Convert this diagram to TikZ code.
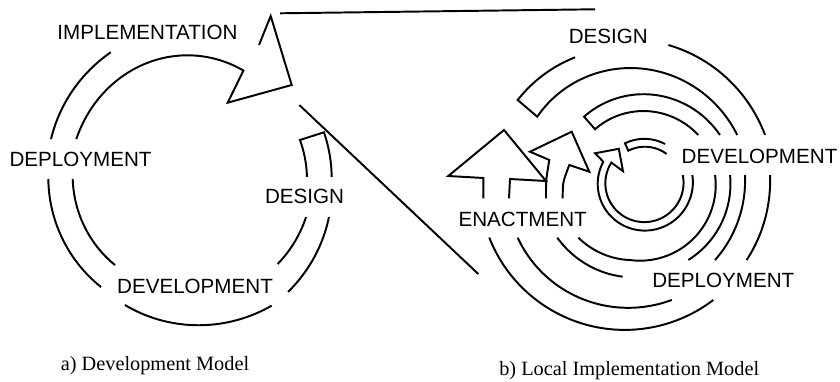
\documentclass[tikz,border=0pt]{standalone}
\usepackage{fontspec}
\setmainfont{Liberation Serif}
\newfontfamily\lsans{Liberation Sans}
\newcommand\rad[4]{((#2)+(\x-(#1))*((#4)-(#2))/((#3)-(#1)))}
\begin{document}
\begin{tikzpicture}[x=1pt,y=-1pt,
  ln/.style={line width=1.95pt},
  lab/.style={font=\lsans\fontsize{20.6}{24}\selectfont, inner sep=0pt, anchor=base},
  captxt/.style={font=\fontsize{20.3}{24}\selectfont, inner sep=0pt, anchor=base}]
\useasboundingbox (0,0) rectangle (840,382);
% ---------------- left figure (centre 190,180)
\draw[ln] plot[domain=196.4:238.2,samples=30,smooth] ({190+\rad{196.4}{144.9}{238.2}{150.3}*cos(\x)},{180+\rad{196.4}{144.9}{238.2}{150.3}*sin(\x)});
\draw[ln] plot[domain=129.7:180.4,samples=30,smooth] ({190+\rad{129.7}{139.2}{180.4}{141.7}*cos(\x)},{180+\rad{129.7}{139.2}{180.4}{141.7}*sin(\x)});
\draw[ln] plot[domain=57:117.5,samples=30,smooth] ({190+\rad{57}{149.9}{117.5}{140.9}*cos(\x)},{180+\rad{57}{149.9}{117.5}{140.9}*sin(\x)});
\draw[ln] plot[domain=14.9:48.8,samples=30,smooth] ({190+\rad{14.9}{143.8}{48.8}{148.8}*cos(\x)},{180+\rad{14.9}{143.8}{48.8}{148.8}*sin(\x)});
\draw[ln] plot[domain=-1.5:-20,samples=20,smooth] ({190+117*cos(\x)},{180+117*sin(\x)})
  -- plot[domain=-19.6:-1.2,samples=20,smooth] ({190+\rad{-19.6}{142.2}{-1.2}{141.7}*cos(\x)},{180+\rad{-19.6}{142.2}{-1.2}{141.7}*sin(\x)});
\draw[ln] plot[domain=17.7:43.8,samples=20,smooth] ({190+\rad{17.7}{121.8}{43.8}{121.4}*cos(\x)},{180+\rad{17.7}{121.8}{43.8}{121.4}*sin(\x)});
\draw[ln] plot[domain=131.4:180.5,samples=30,smooth] ({190+\rad{131.4}{113.4}{180.5}{117.3}*cos(\x)},{180+\rad{131.4}{113.4}{180.5}{117.3}*sin(\x)});
\draw[ln] plot[domain=198.7:297.5,samples=50,smooth] ({190+120*(1-(\x-198.7)*0.036/98.8)*cos(\x)},{180+128*(1-(\x-198.7)*0.036/98.8)*sin(\x)})
  -- (227.7,102.7) -- (291.7,85) -- (270.7,16) -- (259,45);
% zoom connectors
\coordinate (z1) at (280,13.3);
\coordinate (z2) at (595,9.3);
\coordinate (z3) at (299.3,105);
\coordinate (z4) at (478.3,274);
\draw[ln] (z1) -- (z2);
\draw[ln] (z3) -- (z4);
% ---------------- right figure, band A (centre 624,184)
\draw[ln] plot[domain=-23.4:-142.2,samples=50,smooth] ({624+\rad{-23.4}{123.4}{-142.2}{109.8}*cos(\x)},{184+\rad{-23.4}{123.4}{-142.2}{109.8}*sin(\x)})
  -- plot[domain=-141.7:-111.1,samples=20,smooth] ({624+\rad{-141.7}{135.5}{-111.1}{135.8}*cos(\x)},{184+\rad{-141.7}{135.5}{-111.1}{135.8}*sin(\x)});
\draw[ln] plot[domain=-72.3:-19.2,samples=30,smooth] ({624+\rad{-72.3}{145.9}{-19.2}{149.3}*cos(\x)},{184+\rad{-72.3}{145.9}{-19.2}{149.3}*sin(\x)});
\draw[ln] plot[domain=-3.5:31.8,samples=20,smooth] ({624+\rad{-3.5}{146.3}{31.8}{144.3}*cos(\x)},{184+\rad{-3.5}{146.3}{31.8}{144.3}*sin(\x)});
\draw[ln] plot[domain=52.4:158.3,samples=50,smooth] ({624+\rad{52.4}{146.4}{158.3}{145.0}*cos(\x)},{184+\rad{52.4}{146.4}{158.3}{145.0}*sin(\x)});
\draw[ln] plot[domain=-4.3:39.9,samples=20,smooth] ({624+\rad{-4.3}{121.3}{39.9}{118.6}*cos(\x)},{184+\rad{-4.3}{121.3}{39.9}{118.6}*sin(\x)});
\draw[ln] plot[domain=67.6:153.2,samples=40,smooth] ({624+\rad{67.6}{125.4}{153.2}{119.1}*cos(\x)},{184+\rad{67.6}{125.4}{153.2}{119.1}*sin(\x)});
\draw[ln] (483.3,198.3) -- (483.3,178) -- (448.3,176) -- (504,130) -- (546,181) -- (510,179) -- (509,198.3);
% band B (centre 640,185)
\draw[ln] plot[domain=-32:-129.3,samples=40,smooth] ({640+\rad{-32}{94.3}{-129.3}{88.3}*cos(\x)},{185+\rad{-32}{94.3}{-129.3}{88.3}*sin(\x)})
  -- plot[domain=-128.9:-40.6,samples=40,smooth] ({640+\rad{-128.9}{71.6}{-40.6}{76.8}*cos(\x)},{185+\rad{-128.9}{71.6}{-40.6}{76.8}*sin(\x)});
\draw[ln] plot[domain=-6.3:57.2,samples=30,smooth] ({640+\rad{-6.3}{90.6}{57.2}{89.2}*cos(\x)},{185+\rad{-6.3}{90.6}{57.2}{89.2}*sin(\x)});
\draw[ln] plot[domain=100.7:147.5,samples=30,smooth] ({640+\rad{100.7}{93.3}{147.5}{98.1}*cos(\x)},{185+\rad{100.7}{93.3}{147.5}{98.1}*sin(\x)});
\draw[ln] plot[domain=139.5:97.6,samples=25,smooth] ({640+\rad{139.5}{81.1}{97.6}{75.7}*cos(\x)},{185+\rad{139.5}{81.1}{97.6}{75.7}*sin(\x)})
  -- plot[domain=97.6:-7.6,samples=50,smooth] ({640+75.7*cos(\x)},{185+75.7*sin(\x)});
\draw[ln] plot[smooth] coordinates {(546,198.3) (546.3,180) (549.3,160)} -- (530,151.7) -- (571.7,131.7) -- (589.3,171.7) -- (569.3,165)
  -- plot[smooth] coordinates {(569.3,165) (563.5,182) (562.7,198.3)};
% band C (centre 644,183)
\draw[ln] plot[domain=-61.7:-115.6,samples=20,smooth] ({644+\rad{-61.7}{44.3}{-115.6}{44}*cos(\x)},{183+\rad{-61.7}{44.3}{-115.6}{44}*sin(\x)})
  -- plot[domain=-115.9:-52,samples=20,smooth] ({644+\rad{-115.9}{35.9}{-52}{36.8}*cos(\x)},{183+\rad{-115.9}{35.9}{-52}{36.8}*sin(\x)});
\draw[ln] plot[domain=-9.4:207.6,samples=70,smooth] ({644+\rad{-9.4}{49}{207.6}{45.9}*cos(\x)},{183+\rad{-9.4}{49}{207.6}{45.9}*sin(\x)})
  -- (595,153.3) -- (618.8,148.8) -- (623,171.2)
  -- plot[domain=212:-11.5,samples=70,smooth] ({644+\rad{212}{38.5}{-11.5}{39.6}*cos(\x)},{183+\rad{212}{38.5}{-11.5}{39.6}*sin(\x)});
% ---------------- labels
\node[lab] (impl) at (147.5,40) {IMPLEMENTATION};
\node[lab] (depl) at (80.5,167) {DEPLOYMENT};
\node[lab] (desl) at (304.5,204) {DESIGN};
\node[lab] (devl) at (195,293) {DEVELOPMENT};
\node[lab] (desr) at (608.3,44) {DESIGN};
\node[lab] (devr) at (759.5,163.3) {DEVELOPMENT};
\node[lab] (enac) at (522.7,226) {ENACTMENT};
\node[lab] (depr) at (723.3,287.7) {DEPLOYMENT};
\node[captxt] (capa) at (155,370) {a) Development Model};
\node[captxt] (capb) at (629.2,375) {b) Local Implementation Model};
\end{tikzpicture}
\end{document}
